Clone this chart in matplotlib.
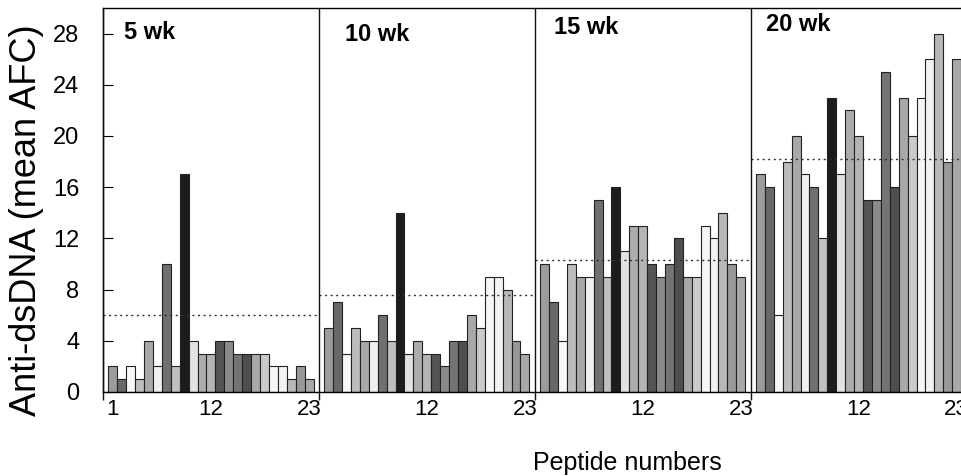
import matplotlib.pyplot as plt
import numpy as np

plt.rcParams['font.family'] = ['Liberation Sans', 'DejaVu Sans']

# peptide 1..23, mean AFC per time point
peptides = np.arange(1, 24)
weeks = ['5 wk', '10 wk', '15 wk', '20 wk']
afc_5wk = [2, 1, 2, 1, 4, 2, 10, 2, 17, 4, 3, 3, 4, 4, 3, 3, 3, 3, 2, 2, 1, 2, 1]
afc_10wk = [5, 7, 3, 5, 4, 4, 6, 4, 14, 3, 4, 3, 3, 2, 4, 4, 6, 5, 9, 9, 8, 4, 3]
afc_15wk = [10, 7, 4, 10, 9, 9, 15, 9, 16, 11, 13, 13, 10, 9, 10, 12, 9, 9, 13, 12, 14, 10, 9]
afc_20wk = [17, 16, 6, 18, 20, 17, 16, 12, 23, 17, 22, 20, 15, 15, 25, 16, 23, 20, 23, 26, 28, 18, 26]
cutoffs = [6.0, 7.6, 10.3, 18.2]   # dotted lines

# fill shade for each peptide (same across panels)
shades = ['#9c9c9c', '#686868', '#f8f8f8', '#bcbcbc', '#a8a8a8', '#f0f0f0',
          '#707070', '#c0c0c0', '#1c1c1c', '#e2e2e2', '#acacac', '#b4b4b4',
          '#555555', '#8a8a8a', '#747474', '#4e4e4e', '#a8a8a8', '#cacaca',
          '#f6f6f6', '#f2f2f2', '#b8b8b8', '#989898', '#a8a8a8']

all_afc = [afc_5wk, afc_10wk, afc_15wk, afc_20wk]
W = 24.2  # width of one panel in bar units

fig = plt.figure(figsize=(9.61, 4.76), dpi=100)
ax = fig.add_axes([103/961, 84/476, 1 - 103/961, 384/476])

title_pos = [(2.4, 28.1), (2.9, 27.9), (2.2, 28.5), (1.7, 28.7)]
for p, vals in enumerate(all_afc):
    x0 = p * W
    ax.bar(x0 + peptides + 0.1, vals, width=1.0, color=shades,
           edgecolor='#222222', linewidth=0.8, zorder=2)
    ax.hlines(cutoffs[p], x0, x0 + W, colors='#333333', linestyles=(0, (1.5, 2.5)),
              linewidth=1.0, zorder=3)
    ax.vlines(x0, -0.6, 30, colors='#111111', linewidth=1.0, clip_on=False, zorder=4)
    ax.text(x0 + title_pos[p][0], title_pos[p][1], weeks[p], fontsize=17,
            fontweight='bold', ha='left', va='center')

# x labels: "1" only on first panel, then 12 and 23 on each
xt = [1.1] + [p * W + k + 0.1 for p in range(4) for k in (12, 23)]
xl = ['1'] + ['12', '23'] * 4
ax.set_xticks(xt)
ax.set_xticklabels(xl, fontsize=16)
ax.set_xticks([p * W + 12.1 for p in range(4)], minor=True)
ax.tick_params(axis='x', which='major', length=0, pad=5)
ax.tick_params(axis='x', which='minor', length=5, direction='out', width=1)

ax.set_yticks(np.arange(0, 29, 4))
ax.tick_params(axis='y', direction='in', length=7, labelsize=17, pad=17)

ax.set_xlim(0, (961 - 103) / 8.92)
ax.set_ylim(0, 30)
ax.spines['right'].set_visible(False)
for s in ['left', 'bottom', 'top']:
    ax.spines[s].set_linewidth(1.0)

fig.text(27/961, 1 - 220/476, 'Anti-dsDNA (mean AFC)', rotation=90, fontsize=26,
         ha='center', va='center')
fig.text(627/961, 1 - 463/476, 'Peptide numbers', fontsize=18, ha='center', va='center')

fig.savefig('out.png', dpi=100)
